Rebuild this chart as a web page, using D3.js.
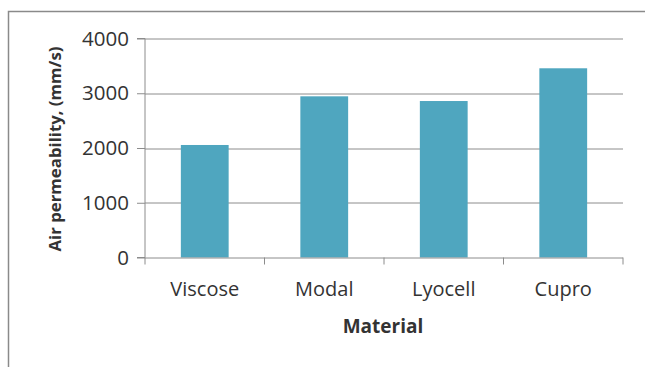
<!DOCTYPE html>
<html>
<head>
<meta charset="utf-8">
<script src="https://cdn.jsdelivr.net/npm/d3@7"></script>
<style>
  body { margin: 0; background: #fff; }
  svg text { font-family: "Open Sans", sans-serif; fill: #333; }
</style>
</head>
<body>
<svg id="chart" width="645" height="367"></svg>
<script>
const materials = ["Viscose", "Modal", "Lyocell", "Cupro"]
const permeability = [2055, 2944, 2858, 3456]
const yTicks = [0, 1000, 2000, 3000, 4000]

const svg = d3.select("#chart")
const margin = {top: 38.5, right: 22, bottom: 109.5, left: 145}
const width = 645 - margin.left - margin.right
const height = 367 - margin.top - margin.bottom

// outer frame (only top and left edges show)
svg.append("path")
   .attr("d", "M8.5,367 V11.5 H645")
   .attr("fill", "none")
   .attr("stroke", "#8a8a8a")
   .attr("stroke-width", 1.5)

const g = svg.append("g")
             .attr("transform", "translate(" + margin.left + "," + margin.top + ")")

const x = d3.scaleBand()
            .domain(materials)
            .range([0, width])
            .paddingInner(0.6)
            .paddingOuter(0.3)

const y = d3.scaleLinear()
            .domain([0, 4000])
            .range([height, 0])

// gridlines
g.selectAll(".grid")
 .data(yTicks.slice(1))
 .enter().append("line")
 .attr("x1", 0)
 .attr("x2", width)
 .attr("y1", d => Math.round(y(d)) + 0.5)
 .attr("y2", d => Math.round(y(d)) + 0.5)
 .attr("stroke", "#8c8c8c")
 .attr("stroke-width", 1)

g.selectAll(".bar")
 .data(permeability)
 .enter().append("rect")
 .attr("x", (d, i) => x(materials[i]))
 .attr("y", d => y(d))
 .attr("width", x.bandwidth())
 .attr("height", d => height - y(d))
 .attr("fill", "#4fa6bf")

const yAxis = g.append("g")
               .call(d3.axisLeft(y).tickValues(yTicks).tickSize(8).tickPadding(8).tickFormat(d3.format("d")))
yAxis.select(".domain").attr("stroke", "#8c8c8c").attr("d", "M-8," + height + "H0V0H-8")
yAxis.selectAll(".tick line").attr("stroke", "#8c8c8c")
yAxis.selectAll(".tick text").attr("font-size", 20.5).attr("fill", "#333")

// bottom axis with ticks at band boundaries
const xAxis = g.append("g").attr("transform", "translate(0," + height + ")")
xAxis.append("line")
     .attr("x1", 0).attr("x2", width)
     .attr("y1", 0.5).attr("y2", 0.5)
     .attr("stroke", "#8c8c8c")
const step = width / materials.length
xAxis.selectAll(".xtick")
     .data(d3.range(materials.length + 1))
     .enter().append("line")
     .attr("x1", d => d * step)
     .attr("x2", d => d * step)
     .attr("y1", 0)
     .attr("y2", 7)
     .attr("stroke", "#8c8c8c")
xAxis.selectAll(".xlabel")
     .data(materials)
     .enter().append("text")
     .attr("x", d => x(d) + x.bandwidth() / 2)
     .attr("y", 38)
     .attr("text-anchor", "middle")
     .attr("font-size", 20)
     .text(d => d)

svg.append("text")
   .attr("x", 383)
   .attr("y", 333)
   .attr("text-anchor", "middle")
   .attr("font-size", 19)
   .attr("font-weight", "bold")
   .attr("fill", "#222")
   .text("Material")

svg.append("text")
   .attr("transform", "translate(61,149) rotate(-90)")
   .attr("text-anchor", "middle")
   .attr("font-size", 16.8)
   .attr("font-weight", "bold")
   .attr("fill", "#222")
   .text("Air permeability, (mm/s)")
</script>
</body>
</html>
